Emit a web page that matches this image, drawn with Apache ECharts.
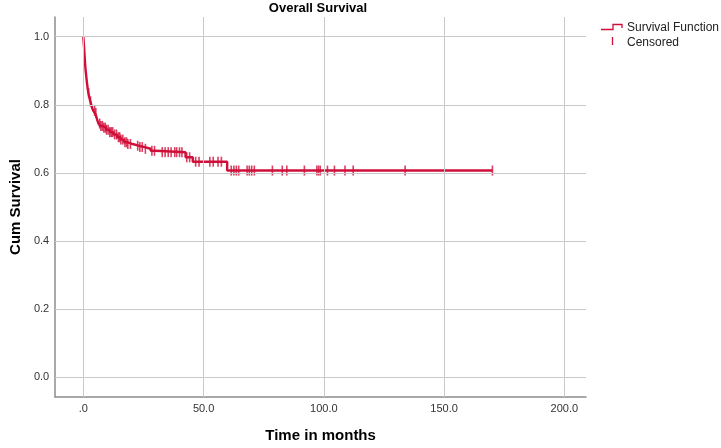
<!DOCTYPE html>
<html>
<head>
<meta charset="utf-8">
<script src="https://cdn.jsdelivr.net/npm/echarts@6/dist/echarts.min.js"></script>
<style>
html,body{margin:0;padding:0;background:#fff;}
#c{width:721px;height:448px;}
</style>
</head>
<body>
<div id="c"></div>
<script>
// Kaplan-Meier step function: time (months) at which survival drops, and survival value after the drop
const stepTimes = [0, 0.3, 0.6, 0.9, 1.2, 1.5, 1.8, 2.1, 2.5, 2.9, 3.3, 3.7, 4.2, 4.8, 5.3, 5.8, 6.3, 7.0, 8.0, 9.5, 11.0, 12.5, 14.0, 15.5, 17.0, 18.5, 20.5, 23.0, 25.5, 28.0, 30.0, 42.5, 45.5, 59.8];
const stepSurv  = [1.0, 0.97, 0.935, 0.905, 0.885, 0.865, 0.848, 0.835, 0.822, 0.81, 0.80, 0.79, 0.782, 0.776, 0.768, 0.755, 0.745, 0.738, 0.733, 0.727, 0.72, 0.713, 0.705, 0.698, 0.69, 0.685, 0.68, 0.676, 0.671, 0.665, 0.661, 0.646, 0.633, 0.607];
const lastTime = 170.1;
// censored observation times (months)
const censorTimes = [2.2, 3.0, 4.7, 5.2, 6.8, 7.3, 7.9, 8.5, 9.1, 9.6, 10.3, 11.0, 11.6, 12.2, 13.0, 13.8, 14.6, 15.1, 15.6, 16.4, 17.3, 18.0, 18.5, 19.6, 22.6, 23.5, 24.5, 25.8, 28.5, 29.6, 32.8, 34.0, 35.3, 36.5, 38.0, 38.8, 40.0, 41.0, 43.0, 44.2, 46.7, 48.1, 52.6, 54.0, 56.0, 57.4, 61.5, 62.6, 63.6, 64.6, 68.1, 69.0, 70.0, 71.1, 78.6, 82.7, 84.6, 91.9, 97.1, 97.8, 98.5, 101.5, 104.4, 108.8, 112.2, 133.8, 170.1];
const xTicks = [0, 50, 100, 150, 200];
const yTicks = [0, 0.2, 0.4, 0.6, 0.8, 1.0];

const RED = '#cf0f3a';
const GRID = '#c9c9c9';
const AXIS = '#8c8c8c';

function survAt(t) {
  let s = stepSurv[0];
  for (let i = 0; i < stepTimes.length; i++) if (stepTimes[i] <= t) s = stepSurv[i];
  return s;
}
const lineData = stepTimes.map((t, i) => [t, stepSurv[i]]);
lineData.push([lastTime, survAt(lastTime)]);
const censorData = censorTimes.map(t => [t, survAt(t)]);

const gridLines = [];
xTicks.forEach(v => gridLines.push({xAxis: v}));
yTicks.forEach(v => gridLines.push({yAxis: v}));

const chart = echarts.init(document.getElementById('c'), null, {renderer: 'canvas'});
chart.setOption({
  animation: false,
  backgroundColor: '#fff',
  grid: {left: 48, right: 135, top: 17, bottom: 48, containLabel: false},
  xAxis: {
    type: 'value', min: -11.7, max: 209,
    name: 'Time in months', nameLocation: 'middle', nameGap: 31,
    nameTextStyle: {fontFamily: 'Liberation Sans', fontWeight: 'bold', fontSize: 15, color: '#000'},
    axisLine: {show: true, onZero: false, lineStyle: {color: AXIS, width: 1.5}},
    axisTick: {show: false},
    splitLine: {show: false},
    axisLabel: {
      customValues: xTicks, margin: 6,
      fontFamily: 'Liberation Sans', fontSize: 11, color: '#333',
      formatter: v => (v === 0 ? '.0' : v.toFixed(1))
    }
  },
  yAxis: {
    type: 'value', min: -0.058, max: 1.058,
    name: 'Cum Survival', nameLocation: 'middle', nameGap: 28, nameRotate: 90,
    nameTextStyle: {fontFamily: 'Liberation Sans', fontWeight: 'bold', fontSize: 15, color: '#000'},
    axisLine: {show: true, onZero: false, lineStyle: {color: AXIS, width: 1.5}},
    axisTick: {show: false},
    splitLine: {show: false},
    axisLabel: {
      customValues: yTicks, margin: 6,
      fontFamily: 'Liberation Sans', fontSize: 11, color: '#333',
      formatter: v => v.toFixed(1)
    }
  },
  series: [
    {
      type: 'line', data: [], z: 1, silent: true,
      markLine: {
        silent: true, symbol: 'none', label: {show: false},
        lineStyle: {color: GRID, width: 1, type: 'solid'},
        data: gridLines
      }
    },
    {
      type: 'line', step: 'end', data: lineData, z: 3,
      showSymbol: false, symbol: 'none',
      lineStyle: {color: RED, width: 2.4}
    },
    {
      type: 'scatter', data: censorData, z: 4,
      symbol: 'rect', symbolSize: [1.6, 10],
      itemStyle: {color: RED}
    }
  ],
  graphic: [
    {type: 'text', x: 318, y: 2, style: {text: 'Overall Survival', fontFamily: 'Liberation Sans', fontWeight: 'bold', fontSize: 13, fill: '#000', align: 'center', textAlign: 'center'}},
    {type: 'polyline', shape: {points: [[601, 29.5], [613, 29.5], [613, 24.5], [622, 24.5], [622, 28]]}, style: {stroke: RED, lineWidth: 1.3, fill: null}},
    {type: 'text', x: 627, y: 22, style: {text: 'Survival Function', fontFamily: 'Liberation Sans', fontSize: 12, fill: '#222'}},
    {type: 'line', shape: {x1: 612.5, y1: 37, x2: 612.5, y2: 45}, style: {stroke: RED, lineWidth: 1.3}},
    {type: 'text', x: 627, y: 37, style: {text: 'Censored', fontFamily: 'Liberation Sans', fontSize: 12, fill: '#222'}}
  ]
});
</script>
</body>
</html>
